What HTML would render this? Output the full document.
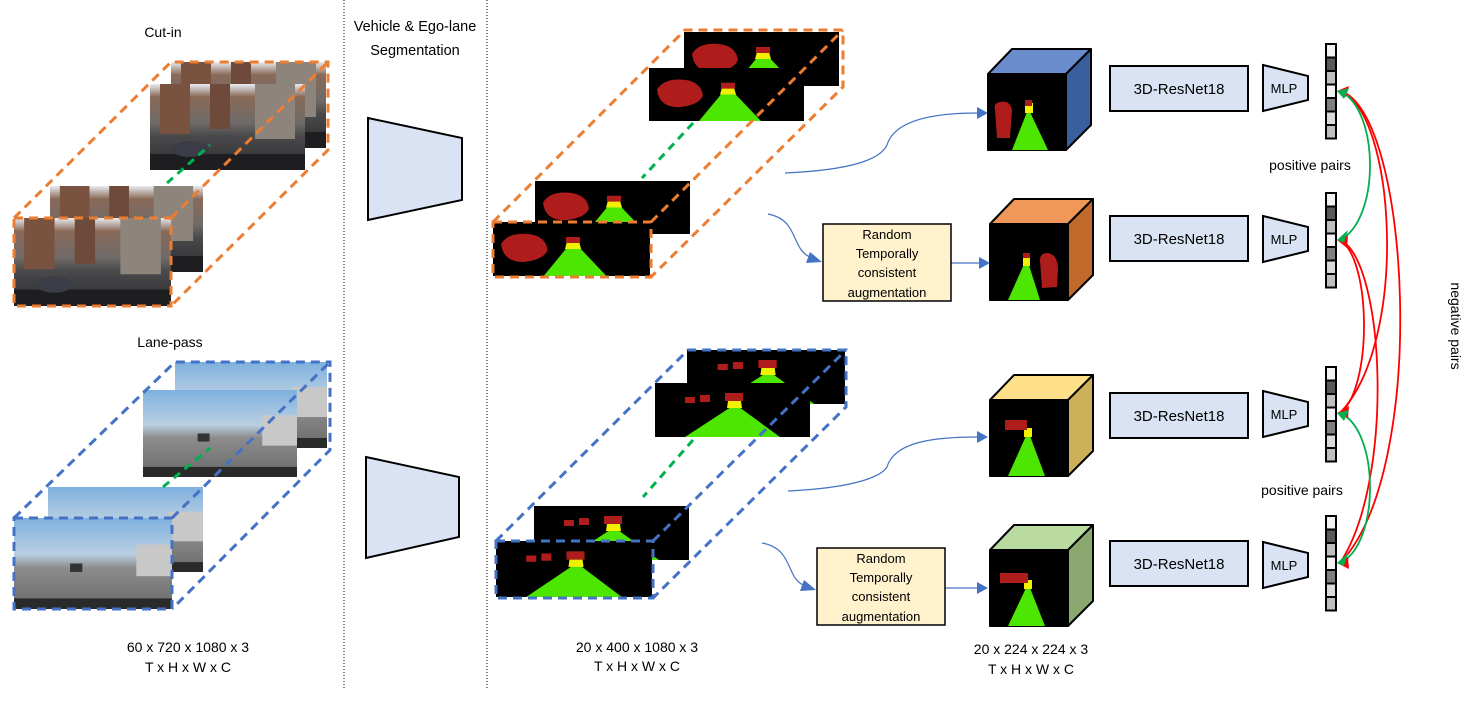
<!DOCTYPE html>
<html><head><meta charset="utf-8"><style>
html,body{margin:0;padding:0;background:#fff}
svg{display:block}
text{font-family:"Liberation Sans",sans-serif;fill:#000}
</style></head><body>
<svg width="1477" height="712" viewBox="0 0 1477 712" xmlns="http://www.w3.org/2000/svg">
<defs>
<linearGradient id="city" x1="0" y1="0" x2="0" y2="1">
<stop offset="0" stop-color="#e8ecf2"/><stop offset="0.15" stop-color="#8a6a58"/><stop offset="0.45" stop-color="#6f6a68"/><stop offset="0.6" stop-color="#4a4a4c"/><stop offset="1" stop-color="#2c2c2e"/></linearGradient>
<linearGradient id="hwy" x1="0" y1="0" x2="0" y2="1">
<stop offset="0" stop-color="#7fb0df"/><stop offset="0.4" stop-color="#b9cfe2"/><stop offset="0.55" stop-color="#8c8c8c"/><stop offset="1" stop-color="#6a6a6a"/></linearGradient>
<symbol id="city1" viewBox="0 0 155 86" preserveAspectRatio="none">
<rect width="155" height="86" fill="url(#city)"/><rect x="10" y="0" width="30" height="50" fill="#7a5240"/><rect x="60" y="0" width="20" height="45" fill="#6d4a3a"/><rect x="105" y="0" width="40" height="55" fill="#8d857c"/><rect x="0" y="70" width="155" height="16" fill="#1e1e20"/><ellipse cx="40" cy="65" rx="18" ry="8" fill="#3a3d45"/></symbol>
<symbol id="hw1" viewBox="0 0 155 86" preserveAspectRatio="none">
<rect width="155" height="86" fill="url(#hwy)"/><rect x="120" y="25" width="35" height="30" fill="#c8c8c8"/><rect x="55" y="43" width="12" height="8" fill="#333"/><rect x="0" y="76" width="155" height="10" fill="#2a2a2a"/></symbol>
<symbol id="segA" viewBox="0 0 155 54" preserveAspectRatio="none">
<rect width="155" height="54" fill="#000"/><path d="M8 22 Q15 10 35 12 Q52 14 54 28 Q50 38 30 40 Q10 40 8 22Z" fill="#ae1c1c"/><polygon points="50,54 112,54 82,22 76,22" fill="#4de600"/><polygon points="73,20 85,20 87,27 71,27" fill="#f0f000"/><rect x="72" y="15" width="14" height="6" fill="#ae1c1c"/></symbol>
<symbol id="segB" viewBox="0 0 155 54" preserveAspectRatio="none">
<rect width="155" height="54" fill="#000"/><rect x="30" y="14" width="10" height="6" fill="#ae1c1c"/><rect x="45" y="12" width="10" height="7" fill="#ae1c1c"/><rect x="70" y="10" width="18" height="8" fill="#ae1c1c"/><polygon points="30,54 125,54 84,24 76,24" fill="#4de600"/><polygon points="73,18 86,18 87,25 72,25" fill="#f0f000"/></symbol>
</defs>

<text x="163" y="37" font-size="14" text-anchor="middle">Cut-in</text>
<text x="170" y="347" font-size="14" text-anchor="middle">Lane-pass</text>
<text x="415" y="31" font-size="14.5" text-anchor="middle">Vehicle &amp; Ego-lane</text>
<text x="415" y="55" font-size="14.5" text-anchor="middle">Segmentation</text>
<text x="188" y="652" font-size="14" text-anchor="middle">60 x 720 x 1080 x 3</text>
<text x="188" y="672" font-size="14" text-anchor="middle">T x H x W x C</text>
<text x="637" y="652" font-size="14" text-anchor="middle">20 x 400 x 1080 x 3</text>
<text x="637" y="671" font-size="14" text-anchor="middle">T x H x W x C</text>
<text x="1031" y="654" font-size="14" text-anchor="middle">20 x 224 x 224 x 3</text>
<text x="1031" y="674" font-size="14" text-anchor="middle">T x H x W x C</text>

<line x1="344" y1="0" x2="344" y2="690" stroke="#000" stroke-width="1" stroke-dasharray="1,2"/>
<line x1="487" y1="0" x2="487" y2="690" stroke="#000" stroke-width="1" stroke-dasharray="1,2"/>

<use href="#city1" x="171" y="62" width="155" height="86"/>
<use href="#city1" x="150" y="84" width="155" height="86"/>
<use href="#city1" x="50" y="186" width="153" height="86"/>
<use href="#city1" x="14" y="218" width="157" height="88"/>
<g fill="none" stroke="#ed7d31" stroke-width="3" stroke-dasharray="9,6">
<rect x="14" y="218" width="157" height="88"/>
<path d="M14 218 L171 62 L328 62 L328 150 L171 306 M171 218 L328 62"/>
</g>
<line x1="167" y1="183" x2="210" y2="145" stroke="#00b050" stroke-width="3" stroke-dasharray="8,6"/>

<use href="#hw1" x="175" y="362" width="152" height="86"/>
<use href="#hw1" x="143" y="390" width="154" height="87"/>
<use href="#hw1" x="48" y="487" width="155" height="85"/>
<use href="#hw1" x="14" y="518" width="158" height="91"/>
<g fill="none" stroke="#4472c4" stroke-width="3" stroke-dasharray="9,6">
<rect x="14" y="518" width="158" height="91"/>
<path d="M14 518 L175 362 L330 362 L330 450 L172 609 M172 518 L330 362"/>
</g>
<line x1="163" y1="487" x2="210" y2="448" stroke="#00b050" stroke-width="3" stroke-dasharray="8,6"/>

<polygon points="368,118 462,138 462,200 368,220" fill="#dae3f3" stroke="#000" stroke-width="2"/>
<polygon points="366,457 459,477 459,537 366,558" fill="#dae3f3" stroke="#000" stroke-width="2"/>

<use href="#segA" x="684" y="32" width="155" height="54"/>
<use href="#segA" x="649" y="68" width="155" height="53"/>
<use href="#segA" x="535" y="181" width="155" height="53"/>
<use href="#segA" x="493" y="222" width="157" height="54"/>
<g fill="none" stroke="#ed7d31" stroke-width="3" stroke-dasharray="9,6">
<rect x="493" y="222" width="158" height="55"/>
<path d="M493 222 L685 30 L843 30 L843 87 L651 277 M651 222 L843 30"/>
</g>
<line x1="693" y1="123" x2="642" y2="178" stroke="#00b050" stroke-width="3" stroke-dasharray="8,6"/>

<use href="#segB" x="687" y="350" width="158" height="54"/>
<use href="#segB" x="655" y="383" width="155" height="54"/>
<use href="#segB" x="534" y="506" width="155" height="54"/>
<use href="#segB" x="496" y="541" width="156" height="56"/>
<g fill="none" stroke="#4472c4" stroke-width="3" stroke-dasharray="9,6">
<rect x="496" y="541" width="157" height="57"/>
<path d="M496 541 L688 350 L846 350 L846 407 L653 598 M653 541 L846 350"/>
</g>
<line x1="693" y1="440" x2="643" y2="497" stroke="#00b050" stroke-width="3" stroke-dasharray="8,6"/>

<g fill="none" stroke="#4472c4" stroke-width="1.2">
<path d="M785 173 C850 170 880 160 887 145 C895 118 940 113 978 113"/>
<path d="M768 214 C800 220 790 250 812 258"/>
<path d="M951 263 L980 263"/>
<path d="M788 491 C850 488 880 478 887 467 C895 440 940 437 978 437"/>
<path d="M762 543 C795 549 785 580 806 586"/>
<path d="M945 588 L980 588"/>
</g>
<g fill="#4472c4">
<polygon points="988,113 977,107 977,119"/>
<polygon points="822,262 810,252 806,263"/>
<polygon points="990,263 979,257 979,269"/>
<polygon points="988,437 977,431 977,443"/>
<polygon points="816,590 804,580 800,591"/>
<polygon points="988,588 977,582 977,594"/>
</g>

<rect x="823" y="224" width="128" height="77" fill="#fff2cc" stroke="#000" stroke-width="1.5"/>
<g font-size="13" text-anchor="middle"><text x="887" y="239">Random</text><text x="887" y="258">Temporally</text><text x="887" y="277">consistent</text><text x="887" y="297">augmentation</text></g>
<rect x="817" y="548" width="128" height="77" fill="#fff2cc" stroke="#000" stroke-width="1.5"/>
<g font-size="13" text-anchor="middle"><text x="881" y="563">Random</text><text x="881" y="582">Temporally</text><text x="881" y="601">consistent</text><text x="881" y="621">augmentation</text></g>

<g stroke="#000" stroke-width="2" stroke-linejoin="round">
<polygon points="988,74 1012,49 1091,49 1066,74" fill="#6a8ccc"/>
<polygon points="1066,74 1091,49 1091,125 1066,150" fill="#3a5f9f"/>
<rect x="988" y="74" width="78" height="76" fill="#000"/>
<polygon points="990,224 1014,199 1093,199 1068,224" fill="#f0975a"/>
<polygon points="1068,224 1093,199 1093,275 1068,300" fill="#c0692b"/>
<rect x="990" y="224" width="78" height="76" fill="#000"/>
<polygon points="990,400 1014,375 1093,375 1068,400" fill="#ffe08a"/>
<polygon points="1068,400 1093,375 1093,451 1068,476" fill="#cdb15a"/>
<rect x="990" y="400" width="78" height="76" fill="#000"/>
<polygon points="990,550 1014,525 1093,525 1068,550" fill="#b9dba0"/>
<polygon points="1068,550 1093,525 1093,601 1068,626" fill="#8aa870"/>
<rect x="990" y="550" width="78" height="76" fill="#000"/>
</g>
<path d="M995 110 Q993 103 1000 102 Q1010 100 1012 110 L1010 138 L997 138Z" fill="#ae1c1c"/>
<polygon points="1012,150 1048,150 1030,112 1027,112" fill="#4de600"/><rect x="1025" y="103" width="8" height="10" fill="#f0f000"/><rect x="1025" y="100" width="7" height="6" fill="#ae1c1c"/>
<path d="M1040 260 Q1040 253 1048 253 Q1058 255 1058 270 L1057 287 L1042 288Z" fill="#ae1c1c"/>
<polygon points="1008,300 1040,300 1028,262 1025,262" fill="#4de600"/><rect x="1023" y="256" width="7" height="10" fill="#f0f000"/><rect x="1023" y="253" width="7" height="5" fill="#ae1c1c"/>
<polygon points="1008,476 1045,476 1030,436 1026,436" fill="#4de600"/><rect x="1024" y="428" width="8" height="9" fill="#f0f000"/><rect x="1005" y="420" width="22" height="10" fill="#ae1c1c"/>
<polygon points="1008,626 1045,626 1030,588 1026,588" fill="#4de600"/><rect x="1024" y="580" width="8" height="9" fill="#f0f000"/><rect x="1000" y="573" width="28" height="10" fill="#ae1c1c"/>

<g fill="#dae3f3" stroke="#000" stroke-width="2">
<rect x="1110" y="66" width="138" height="45"/><rect x="1110" y="216" width="138" height="45"/><rect x="1110" y="393" width="138" height="45"/><rect x="1110" y="541" width="138" height="45"/>
</g>
<g font-size="15" text-anchor="middle"><text x="1179" y="94">3D-ResNet18</text><text x="1179" y="244">3D-ResNet18</text><text x="1179" y="421">3D-ResNet18</text><text x="1179" y="569">3D-ResNet18</text></g>

<g fill="#dae3f3" stroke="#000" stroke-width="2">
<polygon points="1263,65 1308,76 1308,100 1263,111"/>
<polygon points="1263,216 1308,227 1308,251 1263,262"/>
<polygon points="1263,391 1308,402 1308,426 1263,437"/>
<polygon points="1263,542 1308,553 1308,577 1263,588"/>
</g>
<g font-size="13" text-anchor="middle"><text x="1284" y="93">MLP</text><text x="1284" y="244">MLP</text><text x="1284" y="419">MLP</text><text x="1284" y="570">MLP</text></g>

<g stroke="#000" stroke-width="2">
<g transform="translate(1326,44)"><rect y="0" width="10" height="13.5" fill="#f2f2f2"/><rect y="13.5" width="10" height="13.5" fill="#595959"/><rect y="27" width="10" height="13.5" fill="#bfbfbf"/><rect y="40.5" width="10" height="13.5" fill="#f2f2f2"/><rect y="54" width="10" height="13.5" fill="#7f7f7f"/><rect y="67.5" width="10" height="13.5" fill="#d9d9d9"/><rect y="81" width="10" height="13.5" fill="#bfbfbf"/></g>
<g transform="translate(1326,193)"><rect y="0" width="10" height="13.5" fill="#f2f2f2"/><rect y="13.5" width="10" height="13.5" fill="#595959"/><rect y="27" width="10" height="13.5" fill="#bfbfbf"/><rect y="40.5" width="10" height="13.5" fill="#f2f2f2"/><rect y="54" width="10" height="13.5" fill="#7f7f7f"/><rect y="67.5" width="10" height="13.5" fill="#d9d9d9"/><rect y="81" width="10" height="13.5" fill="#bfbfbf"/></g>
<g transform="translate(1326,367)"><rect y="0" width="10" height="13.5" fill="#f2f2f2"/><rect y="13.5" width="10" height="13.5" fill="#595959"/><rect y="27" width="10" height="13.5" fill="#bfbfbf"/><rect y="40.5" width="10" height="13.5" fill="#f2f2f2"/><rect y="54" width="10" height="13.5" fill="#7f7f7f"/><rect y="67.5" width="10" height="13.5" fill="#d9d9d9"/><rect y="81" width="10" height="13.5" fill="#bfbfbf"/></g>
<g transform="translate(1326,516)"><rect y="0" width="10" height="13.5" fill="#f2f2f2"/><rect y="13.5" width="10" height="13.5" fill="#595959"/><rect y="27" width="10" height="13.5" fill="#bfbfbf"/><rect y="40.5" width="10" height="13.5" fill="#f2f2f2"/><rect y="54" width="10" height="13.5" fill="#7f7f7f"/><rect y="67.5" width="10" height="13.5" fill="#d9d9d9"/><rect y="81" width="10" height="13.5" fill="#bfbfbf"/></g>
</g>

<g fill="none" stroke-width="1.8">
<path d="M1340 91 C1410 110 1430 470 1340 563" stroke="#ff0000"/>
<path d="M1340 91 C1395 110 1410 340 1340 413" stroke="#ff0000"/>
<path d="M1340 240 C1385 260 1395 480 1340 563" stroke="#ff0000"/>
<path d="M1340 240 C1372 260 1372 390 1340 413" stroke="#ff0000"/>
<path d="M1340 91 C1380 110 1380 220 1340 240" stroke="#00b050"/>
<path d="M1340 413 C1380 430 1380 545 1340 563" stroke="#00b050"/>
</g>
<g>
<polygon points="1337,91 1349,86 1346,97" fill="#ff0000"/>
<polygon points="1337,413 1349,406 1348,418" fill="#ff0000"/>
<polygon points="1337,563 1348,557 1349,569" fill="#ff0000"/>
<polygon points="1337,240 1348,236 1347,248" fill="#ff0000"/>
<polygon points="1337,91 1349,88 1344,99" fill="#00b050"/>
<polygon points="1337,240 1348,230 1344,243" fill="#00b050"/>
<polygon points="1337,413 1349,410 1344,421" fill="#00b050"/>
<polygon points="1337,563 1348,553 1344,566" fill="#00b050"/>
</g>
<text x="1310" y="170" font-size="14" text-anchor="middle">positive pairs</text>
<text x="1302" y="495" font-size="14" text-anchor="middle">positive pairs</text>
<text x="0" y="0" font-size="14" text-anchor="middle" transform="translate(1451,326) rotate(90)">negative pairs</text>
</svg>
</body></html>
